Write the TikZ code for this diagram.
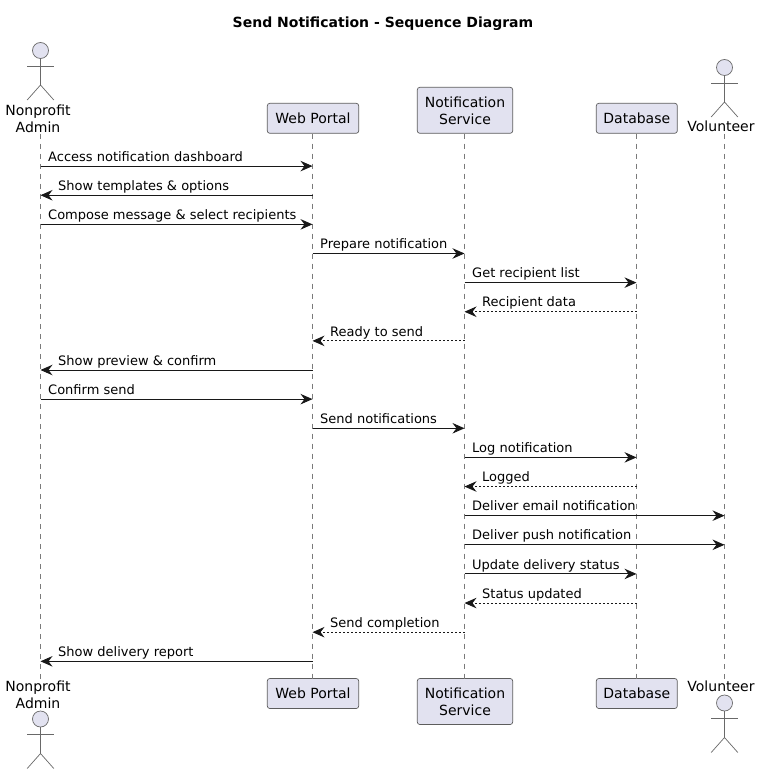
\documentclass[tikz,border=0pt]{standalone}
\usepackage{fontspec}
\setmainfont{DejaVu Sans}
\usetikzlibrary{arrows.meta,calc}
\definecolor{boxfill}{HTML}{E2E2F0}
\definecolor{ink}{HTML}{181818}
\definecolor{lifecol}{HTML}{7A7A7A}
\tikzset{
  x=1pt,y=-1pt,
  labelfont/.style={font=\fontsize{13}{17}\selectfont,text=black},
  partfont/.style={font=\fontsize{14}{17}\selectfont,text=black},
  partbox/.style={draw=ink!70,line width=0.7pt,fill=boxfill,rounded corners=2.5pt,inner sep=0pt,align=center,partfont},
  actorname/.style={inner sep=0pt,align=center,partfont},
  actorshape/.style={draw=ink!65,line width=0.7pt},
  lifeline/.style={draw=lifecol,line width=0.7pt,dash pattern=on 5pt off 5pt},
  msgline/.style={draw=ink,line width=0.9pt,-{Stealth[length=12pt,width=10.5pt,inset=4pt,fill=ink]}},
  msgdash/.style={msgline,dash pattern=on 2pt off 2pt},
  msglabel/.style={inner sep=0pt,anchor=base west,labelfont},
}
\newcommand{\stick}[2]{% x, head centre y
  \draw[actorshape,fill=boxfill] (#1,#2) circle[radius=8];
  \draw[actorshape] (#1,#2+8) -- (#1,#2+34.5);
  \draw[actorshape] (#1-13.3,#2+15.5) -- (#1+13.3,#2+15.5);
  \draw[actorshape] (#1-13.3,#2+49.5) -- (#1,#2+34.5) -- (#1+13.3,#2+49.5);
}
\newcommand{\msgR}[5][msgline]{% style, from, to, row, text
  \path let \p1=(#2) in node[msglabel] (t#4) at (\x1+7.5pt,{-(166.1+29.13*(#4-1)-4.8)*1pt}) {#5};
  \coordinate (r#4) at (0,{166.1+29.13*(#4-1)});
  \draw[#1] (#2 |- r#4) -- (#3 |- r#4);
}
\newcommand{\msgL}[5][msgline]{%
  \path let \p1=(#3) in node[msglabel] (t#4) at (\x1+17.5pt,{-(166.1+29.13*(#4-1)-4.8)*1pt}) {#5};
  \coordinate (r#4) at (0,{166.1+29.13*(#4-1)});
  \draw[#1] (#2 |- r#4) -- (#3 |- r#4);
}
\begin{document}
\begin{tikzpicture}
\useasboundingbox (0,0) rectangle (761,775);
\fill[white] (0,0) rectangle (761,775);
\node[inner sep=0pt,anchor=base,font=\bfseries\fontsize{14}{17}\selectfont] (title) at (383,28) {Send Notification - Sequence Diagram};

% lifeline anchors
\coordinate (admin) at (40.5,134);
\coordinate (adminB) at (40.5,678.5);
\coordinate (vol) at (724.5,134);
\coordinate (volB) at (724.5,678.5);

% top participants
\node[partbox,minimum width=91.4pt,minimum height=30pt] (portal) at (313,118.3) {Web Portal};
\node[partbox,minimum width=95.4pt,minimum height=46pt] (notif) at (465,110.3) {Notification\\Service};
\node[partbox,minimum width=81pt,minimum height=30pt] (db) at (636.8,118.3) {Database};
% bottom participants
\node[partbox,minimum width=91.4pt,minimum height=30pt] (portalB) at (313,693.5) {Web Portal};
\node[partbox,minimum width=95.4pt,minimum height=46pt] (notifB) at (465,701.5) {Notification\\Service};
\node[partbox,minimum width=81pt,minimum height=30pt] (dbB) at (636.8,693.5) {Database};

% lifelines
\draw[lifeline] (admin) -- (adminB);
\draw[lifeline] (portal.south -| 312.5,0) -- (312.5,678.5);
\draw[lifeline] (notif.south -| 464.5,0) -- (464.5,678.5);
\draw[lifeline] (db.south -| 636.5,0) -- (636.5,678.5);
\draw[lifeline] (vol) -- (volB);

% actors
\stick{40.5}{50.5}
\stick{724.5}{67.5}
\stick{40.5}{719}
\stick{724.5}{703}
\node[actorname] (adminName) at (38,119) {Nonprofit\\Admin};
\node[actorname,anchor=base] (volName) at (721,132) {Volunteer};
\node[actorname] (adminNameB) at (38,695) {Nonprofit\\Admin};
\node[actorname,anchor=base] (volNameB) at (721,691) {Volunteer};

% column anchors for messages
\coordinate (P) at (312.5,0);
\coordinate (N) at (464.5,0);
\coordinate (D) at (636.5,0);
\coordinate (A) at (40.5,0);
\coordinate (V) at (724.5,0);

\msgR{A}{P}{1}{Access notification dashboard}
\msgL{P}{A}{2}{Show templates \& options}
\msgR{A}{P}{3}{Compose message \& select recipients}
\msgR{P}{N}{4}{Prepare notification}
\msgR{N}{D}{5}{Get recipient list}
\msgL[msgdash]{D}{N}{6}{Recipient data}
\msgL[msgdash]{N}{P}{7}{Ready to send}
\msgL{P}{A}{8}{Show preview \& confirm}
\msgR{A}{P}{9}{Confirm send}
\msgR{P}{N}{10}{Send notifications}
\msgR{N}{D}{11}{Log notification}
\msgL[msgdash]{D}{N}{12}{Logged}
\msgR{N}{V}{13}{Deliver email notification}
\msgR{N}{V}{14}{Deliver push notification}
\msgR{N}{D}{15}{Update delivery status}
\msgL[msgdash]{D}{N}{16}{Status updated}
\msgL[msgdash]{N}{P}{17}{Send completion}
\msgL{P}{A}{18}{Show delivery report}
\end{tikzpicture}
\end{document}
